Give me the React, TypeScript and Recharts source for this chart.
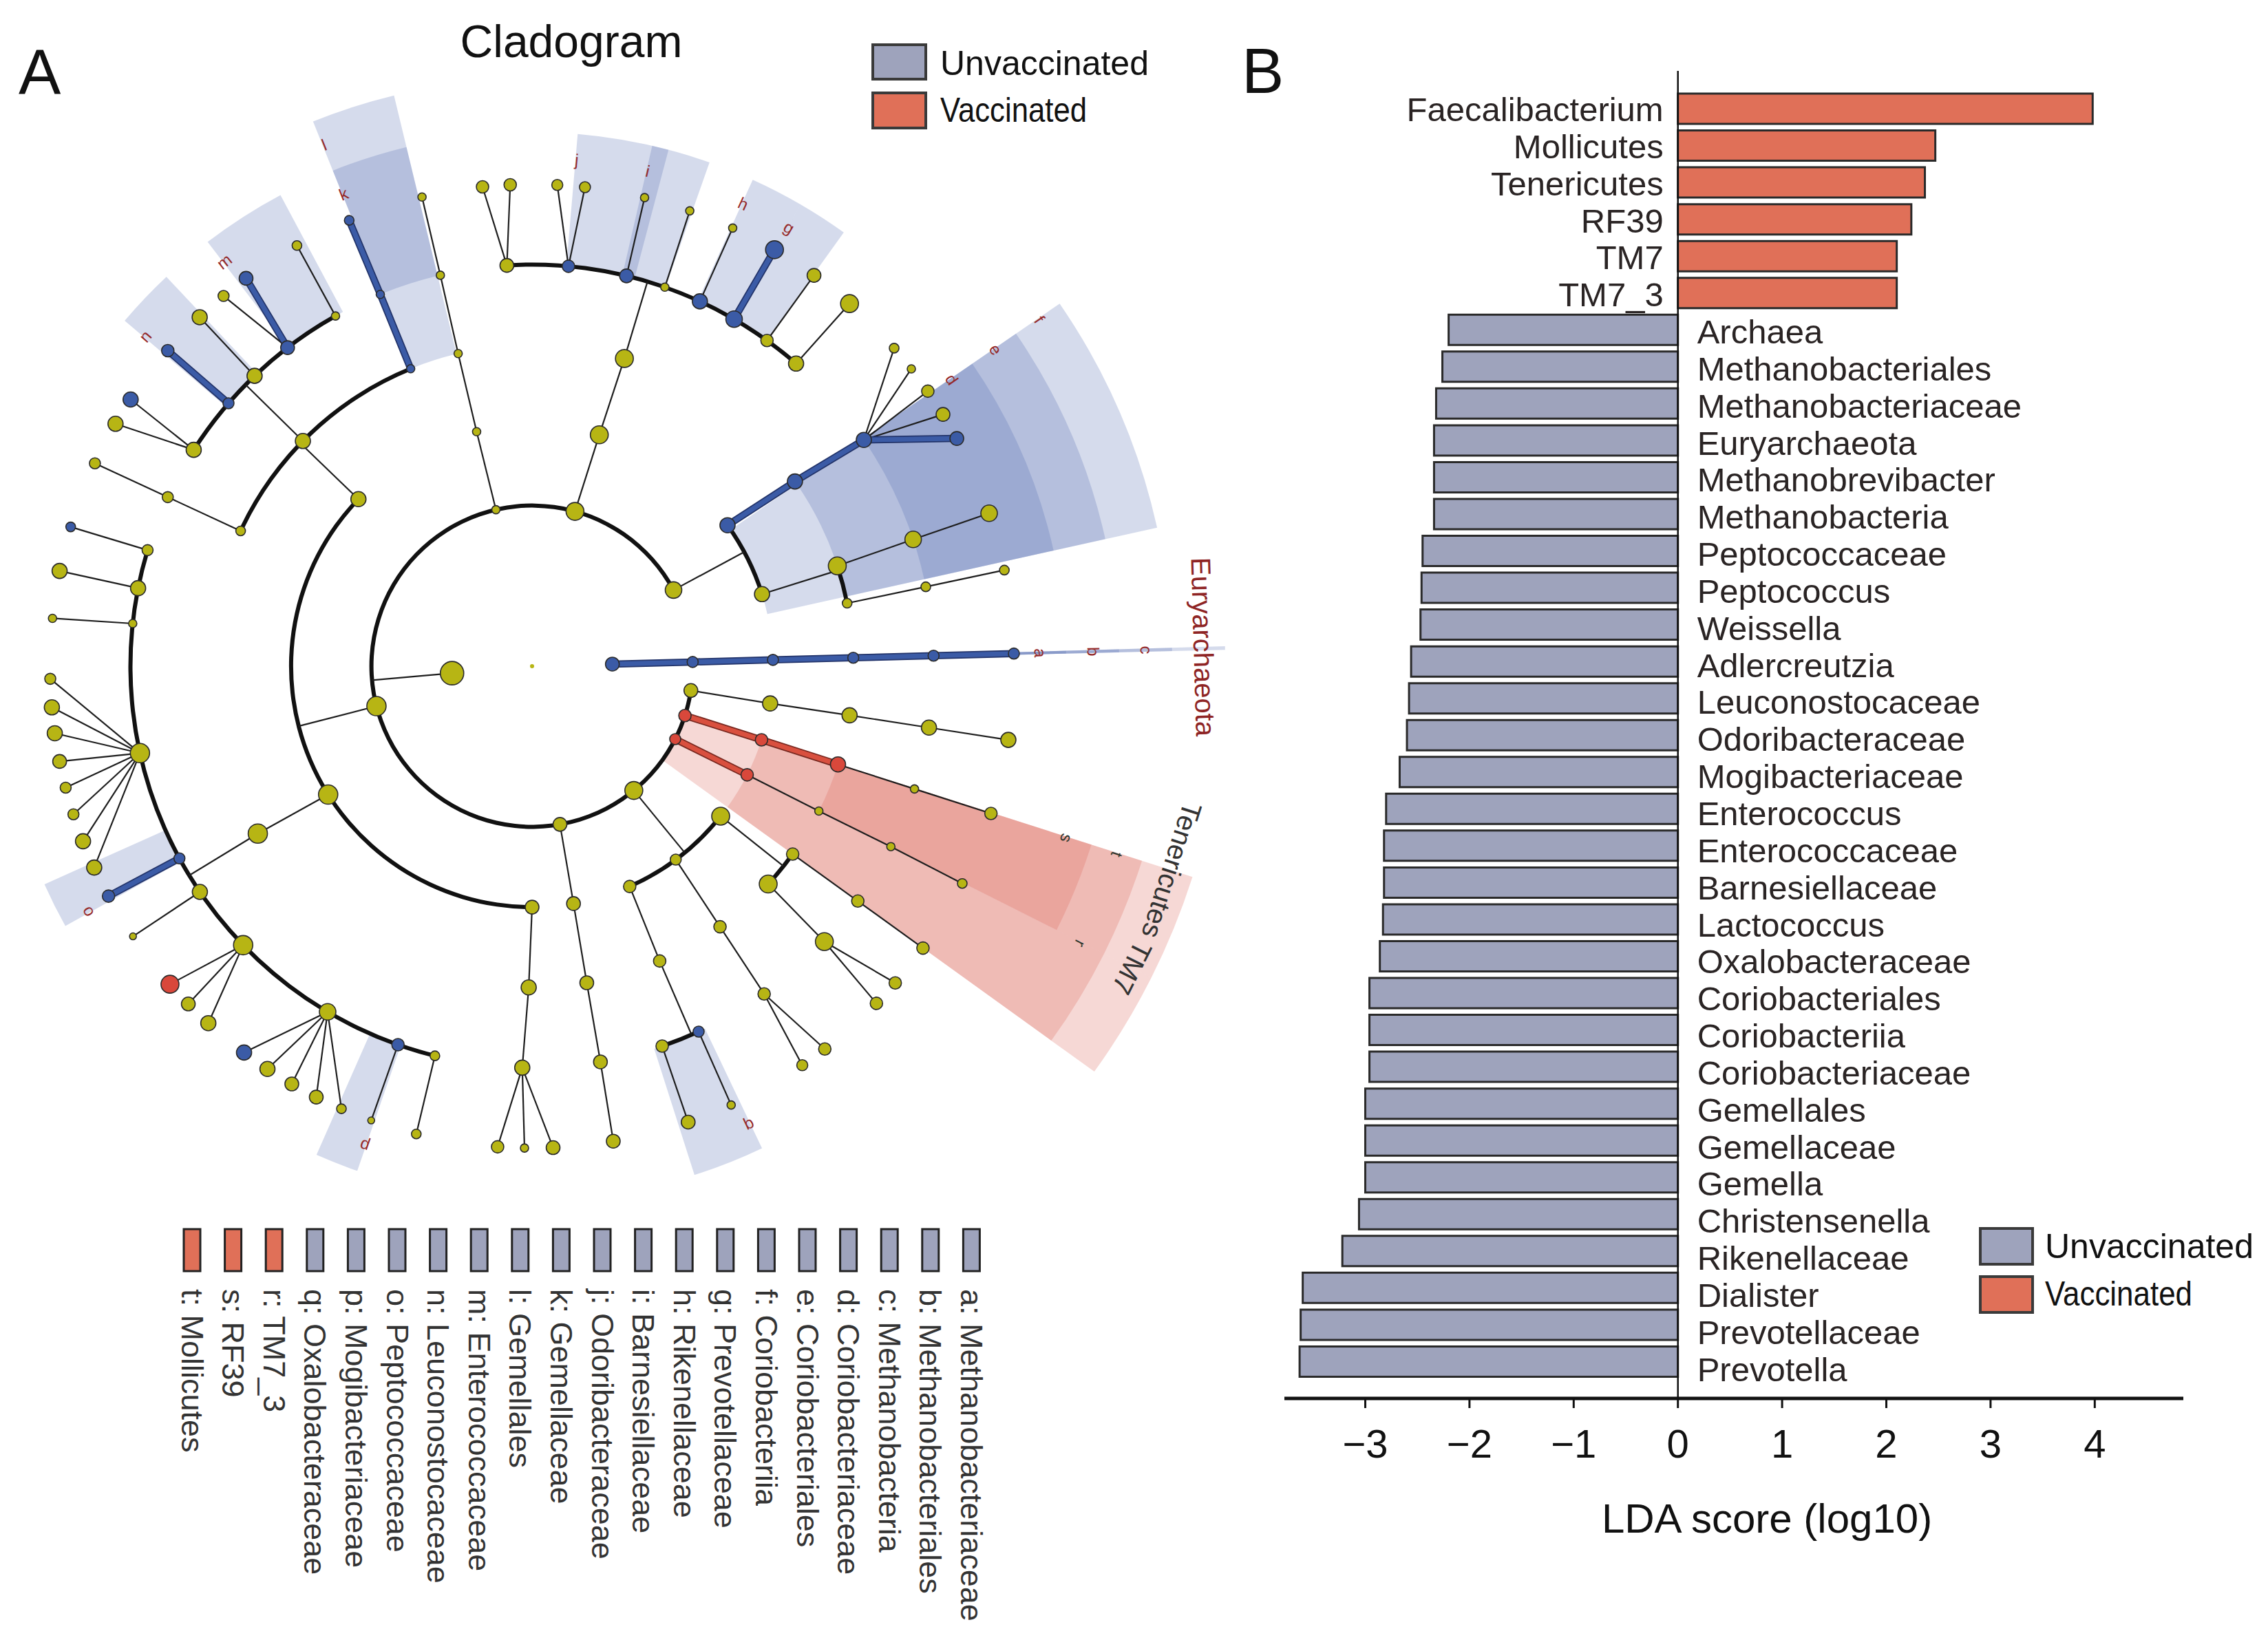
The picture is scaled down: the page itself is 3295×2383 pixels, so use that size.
import React from "react";
import {
  BarChart,
  Bar,
  Cell,
  XAxis,
  YAxis,
  ReferenceLine,
  LabelList,
  Label,
  ScatterChart,
  Scatter,
  PieChart,
  Pie,
} from "recharts";

const FONT = '"Liberation Sans", Arial, Helvetica, sans-serif';
const UNVAC = "#9ea3bc";
const VAC = "#e07058";

/* ---------- Panel B: LDA scores ---------- */
const taxa = [
  "Faecalibacterium", "Mollicutes", "Tenericutes", "RF39", "TM7", "TM7_3",
  "Archaea", "Methanobacteriales", "Methanobacteriaceae", "Euryarchaeota",
  "Methanobrevibacter", "Methanobacteria", "Peptococcaceae", "Peptococcus",
  "Weissella", "Adlercreutzia", "Leuconostocaceae", "Odoribacteraceae",
  "Mogibacteriaceae", "Enterococcus", "Enterococcaceae", "Barnesiellaceae",
  "Lactococcus", "Oxalobacteraceae", "Coriobacteriales", "Coriobacteriia",
  "Coriobacteriaceae", "Gemellales", "Gemellaceae", "Gemella",
  "Christensenella", "Rikenellaceae", "Dialister", "Prevotellaceae", "Prevotella",
];
const ldaScores = [
  3.98, 2.47, 2.37, 2.24, 2.1, 2.1,
  -2.2, -2.26, -2.32, -2.34,
  -2.34, -2.34, -2.45, -2.46,
  -2.47, -2.56, -2.58, -2.6,
  -2.67, -2.8, -2.82, -2.82,
  -2.83, -2.86, -2.96, -2.96,
  -2.96, -3.0, -3.0, -3.0,
  -3.06, -3.22, -3.6, -3.62, -3.63,
];
const ldaTicks = [-3, -2, -1, 0, 1, 2, 3, 4];

/* ---------- Panel A: cladogram ---------- */
// [id, parent, angle (deg, ccw from east), rank (0 root .. 6 genus), group, abundance]
const cladeNodes: [string, string, number, number, string, number][] = [
  ["root", "", 0, 0, "y", 3],
  ["ar1", "root", 1.5, 1, "u", 10],
  ["ar2", "ar1", 1.5, 2, "u", 8],
  ["ar3", "ar2", 1.5, 3, "u", 8],
  ["ar4", "ar3", 1.5, 4, "u", 8],
  ["ar5", "ar4", 1.5, 5, "u", 8],
  ["ar6", "ar5", 1.5, 6, "u", 8],
  ["ba", "root", 185, 1, "y", 17],
  ["act", "ba", 28.3, 2, "y", 12],
  ["bac", "ba", 74.5, 2, "y", 13],
  ["p103", "ba", 103, 2, "y", 6],
  ["fir", "ba", 194.4, 2, "y", 14],
  ["p280", "ba", 280, 2, "y", 10],
  ["pro", "ba", 309.3, 2, "y", 13],
  ["tm7", "ba", 333, 2, "v", 8],
  ["ten", "ba", 342.1, 2, "v", 9],
  ["p351", "ba", 351.3, 2, "y", 10],
  // Actinobacteria
  ["cor3", "act", 35.8, 3, "u", 11],
  ["act3", "act", 17.4, 3, "y", 11],
  ["cor4", "cor3", 35.1, 4, "u", 11],
  ["cor5", "cor4", 34.3, 5, "u", 11],
  ["cg1", "cor5", 41.3, 6, "y", 7],
  ["cg2", "cor5", 38.1, 6, "y", 6],
  ["cg3", "cor5", 34.8, 6, "y", 9],
  ["cg4", "cor5", 31.5, 6, "y", 10],
  ["cg5", "cor5", 28.2, 6, "u", 10],
  ["a4a", "act3", 18.2, 4, "y", 13],
  ["a4b", "act3", 11.3, 4, "y", 7],
  ["a5a", "a4a", 18.4, 5, "y", 12],
  ["a6a", "a5a", 18.5, 6, "y", 12],
  ["a5b", "a4b", 11.4, 5, "y", 7],
  ["a6b", "a5b", 11.5, 6, "y", 7],
  // Bacteroidetes
  ["bac3", "bac", 73.8, 3, "y", 13],
  ["bac4", "bac3", 73.3, 4, "y", 13],
  ["f936", "bac4", 93.6, 5, "y", 10],
  ["f848", "bac4", 84.8, 5, "u", 9],
  ["f764", "bac4", 76.4, 5, "u", 10],
  ["f707", "bac4", 70.7, 5, "y", 6],
  ["f653", "bac4", 65.3, 5, "u", 11],
  ["f598", "bac4", 59.8, 5, "u", 12],
  ["f542", "bac4", 54.2, 5, "y", 9],
  ["f489", "bac4", 48.9, 5, "y", 11],
  ["g959", "f936", 95.9, 6, "y", 9],
  ["g926", "f936", 92.6, 6, "y", 9],
  ["g870", "f848", 87, 6, "y", 8],
  ["g837", "f848", 83.7, 6, "y", 8],
  ["g765", "f764", 76.5, 6, "y", 6],
  ["g709", "f707", 70.9, 6, "y", 6],
  ["g654", "f653", 65.4, 6, "y", 6],
  ["g598", "f598", 59.8, 6, "u", 13],
  ["g542", "f542", 54.2, 6, "y", 10],
  ["g488", "f489", 48.8, 6, "y", 13],
  // small phylum at 103
  ["q3", "p103", 103.3, 3, "y", 6],
  ["q4", "q3", 103.3, 4, "y", 6],
  ["q5", "q4", 103.2, 5, "y", 6],
  ["q6", "q5", 103.2, 6, "y", 6],
  // Firmicutes
  ["bacil", "fir", 136.1, 3, "y", 11],
  ["clos", "fir", 212.2, 3, "y", 14],
  ["neg", "fir", 270, 3, "y", 10],
  ["gem4", "bacil", 112.2, 4, "u", 6],
  ["lac4", "bacil", 135.5, 4, "y", 11],
  ["o155", "bacil", 155.1, 4, "y", 7],
  ["gem5", "gem4", 112.2, 5, "u", 6],
  ["gem6", "gem5", 112.3, 6, "u", 7],
  ["o155f", "o155", 155.1, 5, "y", 8],
  ["o155g", "o155f", 155.1, 6, "y", 8],
  ["l1193", "lac4", 119.3, 5, "y", 6],
  ["ent5", "lac4", 127.5, 5, "u", 10],
  ["l1337", "lac4", 133.7, 5, "y", 11],
  ["leu5", "lac4", 139.1, 5, "u", 8],
  ["str5", "lac4", 147.4, 5, "y", 11],
  ["l1192", "l1193", 119.2, 6, "y", 7],
  ["ent6", "ent5", 126.4, 6, "u", 10],
  ["e1298", "ent5", 129.8, 6, "y", 8],
  ["l1336", "l1337", 133.6, 6, "y", 11],
  ["wei6", "leu5", 139.1, 6, "u", 9],
  ["lact6", "str5", 146.4, 6, "u", 11],
  ["s1498", "str5", 149.8, 6, "y", 11],
  ["clo4", "clos", 211.4, 4, "y", 14],
  ["c1632", "clo4", 163.2, 5, "y", 8],
  ["c1688", "clo4", 168.8, 5, "y", 11],
  ["c1739", "clo4", 173.9, 5, "y", 6],
  ["rum5", "clo4", 192.5, 5, "y", 14],
  ["pep5", "clo4", 208.6, 5, "u", 8],
  ["c2142", "clo4", 214.2, 5, "y", 11],
  ["c2240", "clo4", 224, 5, "y", 14],
  ["c2394", "clo4", 239.4, 5, "y", 12],
  ["mog5", "clo4", 250.5, 5, "u", 9],
  ["c2560", "clo4", 256, 5, "y", 7],
  ["chr6", "c1632", 163.2, 6, "u", 7],
  ["g1686", "c1688", 168.6, 6, "y", 11],
  ["g1743", "c1739", 174.3, 6, "y", 6],
  ["r1815", "rum5", 181.5, 6, "y", 8],
  ["r1849", "rum5", 184.9, 6, "y", 11],
  ["r1880", "rum5", 188, 6, "y", 11],
  ["r1914", "rum5", 191.4, 6, "y", 10],
  ["r1946", "rum5", 194.6, 6, "y", 8],
  ["r1979", "rum5", 197.9, 6, "y", 8],
  ["r2013", "rum5", 201.3, 6, "y", 11],
  ["r2047", "rum5", 204.7, 6, "y", 11],
  ["pep6", "pep5", 208.5, 6, "u", 9],
  ["g2141", "c2142", 214.1, 6, "y", 5],
  ["fae6", "c2240", 221.3, 6, "v", 13],
  ["g2245", "c2240", 224.5, 6, "y", 10],
  ["g2278", "c2240", 227.8, 6, "y", 11],
  ["g2333", "c2394", 233.3, 6, "u", 11],
  ["g2367", "c2394", 236.7, 6, "y", 11],
  ["g2401", "c2394", 240.1, 6, "y", 10],
  ["g2434", "c2394", 243.4, 6, "y", 10],
  ["g2467", "c2394", 246.7, 6, "y", 7],
  ["g2505", "mog5", 250.5, 6, "y", 5],
  ["g2561", "c2560", 256.1, 6, "y", 7],
  ["neg4", "neg", 269.4, 4, "y", 11],
  ["neg5", "neg4", 268.6, 5, "y", 11],
  ["n2659", "neg5", 265.9, 6, "y", 9],
  ["n2691", "neg5", 269.1, 6, "y", 6],
  ["n2725", "neg5", 272.5, 6, "y", 10],
  // phylum at 280
  ["r3", "p280", 279.9, 3, "y", 10],
  ["r4", "r3", 279.8, 4, "y", 10],
  ["r5", "r4", 279.8, 5, "y", 10],
  ["r6", "r5", 279.7, 6, "y", 10],
  // Proteobacteria
  ["pr3a", "pro", 293.9, 3, "y", 9],
  ["pr3b", "pro", 306.6, 3, "y", 8],
  ["pr3c", "pro", 321.5, 3, "y", 13],
  ["pr4a", "pr3a", 293.4, 4, "y", 9],
  ["pr5a", "pr4a", 288.9, 5, "y", 9],
  ["oxa5", "pr4a", 294.5, 5, "u", 8],
  ["pr6a", "pr5a", 288.9, 6, "y", 10],
  ["oxa6", "oxa5", 294.4, 6, "y", 6],
  ["pr4b", "pr3b", 305.8, 4, "y", 9],
  ["pr5b", "pr4b", 305.3, 5, "y", 9],
  ["pr6b1", "pr5b", 307.4, 6, "y", 9],
  ["pr6b2", "pr5b", 304.1, 6, "y", 8],
  ["pr4c", "pr3c", 317.3, 4, "y", 13],
  ["pr4d", "pr3c", 324.2, 4, "y", 9],
  ["pr5c", "pr4c", 316.7, 5, "y", 13],
  ["pr6c1", "pr5c", 318.9, 6, "y", 9],
  ["pr6c2", "pr5c", 315.6, 6, "y", 9],
  ["pr5d", "pr4d", 324.2, 5, "y", 9],
  ["pr6d", "pr5d", 324.2, 6, "y", 9],
  // TM7
  ["tm3", "tm7", 333.2, 3, "v", 9],
  ["tm4", "tm3", 333.2, 4, "y", 6],
  ["tm5", "tm4", 333.3, 5, "y", 6],
  ["tm6", "tm5", 333.2, 6, "y", 7],
  // Tenericutes
  ["te3", "ten", 342.2, 3, "v", 9],
  ["te4", "te3", 342.2, 4, "v", 11],
  ["te5", "te4", 342.2, 5, "y", 6],
  ["te6", "te5", 342.2, 6, "y", 9],
  // phylum at 351
  ["u3", "p351", 351.1, 3, "y", 11],
  ["u4", "u3", 351.2, 4, "y", 11],
  ["u5", "u4", 351.2, 5, "y", 11],
  ["u6", "u5", 351.2, 6, "y", 11],
];

// highlighted biomarker clades: [key, rank, fromAngle, toAngle, group]
const biomarkers: [string, number, number, number, string][] = [
  ["a", 5, 1.35, 1.65, "u"],
  ["b", 4, 1.35, 1.65, "u"],
  ["c", 3, 1.35, 1.65, "u"],
  ["Euryarchaeota", 2, 1.35, 1.65, "u"],
  ["d", 5, 12.5, 34.5, "u"],
  ["e", 4, 12.5, 34.5, "u"],
  ["f", 3, 12.5, 34.5, "u"],
  ["g", 5, 54.3, 59.8, "u"],
  ["h", 5, 59.8, 65.6, "u"],
  ["i", 5, 70.6, 77.0, "u"],
  ["j", 5, 75.2, 85.1, "u"],
  ["k", 5, 103.6, 111.9, "u"],
  ["l", 4, 103.6, 111.9, "u"],
  ["m", 5, 118.1, 127.4, "u"],
  ["n", 5, 133.2, 139.7, "u"],
  ["o", 5, 204.1, 209.1, "u"],
  ["p", 5, 246.2, 250.9, "u"],
  ["q", 5, 287.7, 295.5, "u"],
  ["r", 3, 324.2, 333.3, "v"],
  ["TM7", 2, 324.2, 333.3, "v"],
  ["s", 4, 333.3, 342.3, "v"],
  ["t", 3, 333.3, 342.3, "v"],
  ["Tenericutes", 2, 333.3, 342.3, "v"],
];

const legendNames: [string, string, string][] = [
  ["a", "Methanobacteriaceae", "u"],
  ["b", "Methanobacteriales", "u"],
  ["c", "Methanobacteria", "u"],
  ["d", "Coriobacteriaceae", "u"],
  ["e", "Coriobacteriales", "u"],
  ["f", "Coriobacteriia", "u"],
  ["g", "Prevotellaceae", "u"],
  ["h", "Rikenellaceae", "u"],
  ["i", "Barnesiellaceae", "u"],
  ["j", "Odoribacteraceae", "u"],
  ["k", "Gemellaceae", "u"],
  ["l", "Gemellales", "u"],
  ["m", "Enterococcaceae", "u"],
  ["n", "Leuconostocaceae", "u"],
  ["o", "Peptococcaceae", "u"],
  ["p", "Mogibacteriaceae", "u"],
  ["q", "Oxalobacteraceae", "u"],
  ["r", "TM7_3", "v"],
  ["s", "RF39", "v"],
  ["t", "Mollicutes", "v"],
];

/* ---------- cladogram geometry ---------- */
const CLADO_W = 1800;
const CLADO_H = 1800;
const CX = 773;
const CY = 968;
const STEP = 116.7;

const NODE_FILL: Record<string, string> = { y: "#b7b514", u: "#3b5ba6", v: "#d9483b" };
const SHADE: Record<string, string> = { u: "rgba(80,105,176,0.24)", v: "rgba(219,99,87,0.25)" };
const TAG_COLOR: Record<string, string> = { u: "#952a2a", v: "#2f382f" };

const toRad = (d: number) => (d * Math.PI) / 180;
const polar = (angle: number, rank: number) => ({
  x: rank * Math.cos(toRad(angle)),
  y: rank * Math.sin(toRad(angle)),
});
const shadeOuter = (rank: number) => 6.65 + 0.66 * (5 - rank);

type CNode = { id: string; parent: string; angle: number; rank: number; group: string; abund: number };
const nodeList: CNode[] = cladeNodes.map(([id, parent, angle, rank, group, abund]) => ({
  id, parent, angle, rank, group, abund,
}));
const kidsOf = new Map<string, CNode[]>();
nodeList.forEach((n) => {
  if (!n.parent) return;
  if (!kidsOf.has(n.parent)) kidsOf.set(n.parent, []);
  kidsOf.get(n.parent)!.push(n);
});

type Seg = { a: { x: number; y: number }; b: { x: number; y: number }; kind: string };
const segments: Seg[] = [];
const arcs: { rank: number; from: number; to: number }[] = [];
nodeList.forEach((p) => {
  const kids = kidsOf.get(p.id);
  if (!kids || p.id === "root") return;
  const allLeaves = kids.every((k) => !kidsOf.has(k.id));
  if (kids.length === 1 || allLeaves) {
    kids.forEach((k) => {
      const kind = p.group === k.group && p.group !== "y" ? p.group : "thin";
      segments.push({ a: polar(p.angle, p.rank), b: polar(k.angle, k.rank), kind });
    });
  } else {
    segments.push({ a: polar(p.angle, p.rank), b: polar(p.angle, p.rank + 1), kind: "thin" });
    const angs = kids.map((k) => k.angle).concat(p.angle);
    arcs.push({ rank: p.rank + 1, from: Math.min(...angs), to: Math.max(...angs) });
  }
});

const nodePoints = nodeList.map((n) => ({ ...polar(n.angle, n.rank), abund: n.abund, group: n.group }));
const tagPoints = biomarkers.map(([key, rank, , to, group]) => {
  const isName = key.length > 1;
  const r = shadeOuter(rank) - (isName ? 0.27 : 0.32);
  const ang = isName ? to : to - 0.15;
  return { ...polar(ang, r), text: key, rot: 90 - ang, isName, group };
});

const ONE = [{ v: 1 }];
const NoDot = () => <g />;

const NodeShape = (props: any) => {
  const { cx, cy, payload } = props;
  return (
    <circle cx={cx} cy={cy} r={payload.abund} fill={NODE_FILL[payload.group]}
      stroke={payload.abund > 3 ? "#2b2b2b" : "none"} strokeWidth={1.6} />
  );
};

const TagShape = (props: any) => {
  const { cx, cy, payload } = props;
  const fill = payload.isName
    ? payload.group === "u" ? "#8e2424" : "#333333"
    : TAG_COLOR[payload.group];
  return (
    <text x={cx} y={cy} transform={`rotate(${payload.rot} ${cx} ${cy})`} textAnchor="middle"
      dominantBaseline="central" fontSize={payload.isName ? 40 : 24} fill={fill} fontFamily={FONT}>
      {payload.text}
    </text>
  );
};

const BarTag = (props: any) => {
  const { x, y, width, height, value, index } = props;
  const score = ldaScores[index];
  const zero = score >= 0 ? Math.min(x, x + width) : Math.max(x, x + width);
  // the printed names sit a touch lower than their bars towards the bottom
  const drift = 1 + index * 0.3;
  return (
    <text x={score >= 0 ? zero - 21 : zero + 28} y={y + height / 2 + drift} textAnchor={score >= 0 ? "end" : "start"}
      dominantBaseline="central" fontSize={49} fill="#2a2424" fontFamily={FONT}>
      {value}
    </text>
  );
};

const Cladogram = () => (
  <>
    <div style={{ position: "absolute", left: 0, top: 0 }}>
      <PieChart width={CLADO_W} height={CLADO_H} margin={{ top: 0, right: 0, bottom: 0, left: 0 }}>
        {biomarkers.map(([key, rank, from, to, group]) => (
          <Pie key={"w" + key} data={ONE} dataKey="v" cx={CX} cy={CY} startAngle={from} endAngle={to}
            innerRadius={rank * STEP} outerRadius={shadeOuter(rank) * STEP} stroke="none"
            isAnimationActive={false}>
            <Cell fill={SHADE[group]} />
          </Pie>
        ))}
        {arcs.map((a, i) => (
          <Pie key={"a" + i} data={ONE} dataKey="v" cx={CX} cy={CY} startAngle={a.from} endAngle={a.to}
            innerRadius={a.rank * STEP - 3} outerRadius={a.rank * STEP + 3} stroke="none"
            isAnimationActive={false}>
            <Cell fill="#111111" />
          </Pie>
        ))}
      </PieChart>
    </div>
    <div style={{ position: "absolute", left: 0, top: 0 }}>
      <ScatterChart width={CLADO_W} height={CLADO_H} margin={{ top: 0, right: 0, bottom: 0, left: 0 }}>
        <XAxis type="number" dataKey="x" hide allowDataOverflow
          domain={[-CX / STEP, (CLADO_W - CX) / STEP]} />
        <YAxis type="number" dataKey="y" hide allowDataOverflow
          domain={[-(CLADO_H - CY) / STEP, CY / STEP]} />
        {segments.map((s, i) => (
          <Scatter key={"s" + i} data={[s.a, s.b]} shape={NoDot} isAnimationActive={false}
            line={
              s.kind === "thin"
                ? { stroke: "#1e1e1e", strokeWidth: 2.2 }
                : { stroke: s.kind === "u" ? "#23346a" : "#7a2a22", strokeWidth: 10.5, strokeLinecap: "round" }
            } />
        ))}
        {segments.filter((s) => s.kind !== "thin").map((s, i) => (
          <Scatter key={"c" + i} data={[s.a, s.b]} shape={NoDot} isAnimationActive={false}
            line={{ stroke: s.kind === "u" ? "#3b5ba6" : "#d9503f", strokeWidth: 7, strokeLinecap: "round" }} />
        ))}
        <Scatter data={nodePoints} shape={NodeShape} isAnimationActive={false} />
        <Scatter data={tagPoints} shape={TagShape} isAnimationActive={false} />
      </ScatterChart>
    </div>
  </>
);

const LdaChart = () => (
  <div style={{ position: "absolute", left: 1866, top: 103 }}>
    <BarChart width={1306} height={2209} layout="vertical" margin={{ top: 0, right: 0, bottom: 0, left: 0 }}
      data={taxa.map((name, i) => ({ name, lda: ldaScores[i] }))}>
      <XAxis type="number" domain={[-3.776, 4.85]} ticks={ldaTicks} allowDataOverflow height={280}
        axisLine={{ stroke: "#111", strokeWidth: 5 }} tickLine={{ stroke: "#111", strokeWidth: 3 }}
        tickSize={14} tickMargin={31}
        tick={{ fontSize: 58, fill: "#111", fontFamily: FONT }}
        tickFormatter={(v: number) => (v < 0 ? `\u2212${Math.abs(v)}` : `${v}`)}>
        <Label value="LDA score (log10)" position="insideBottom" offset={85} dx={48}
          fontSize={60} fill="#111" fontFamily={FONT} />
      </XAxis>
      <YAxis type="category" dataKey="name" hide padding={{ top: 28, bottom: 27 }} />
      <ReferenceLine x={0} stroke="#111" strokeWidth={2.5} />
      <Bar dataKey="lda" barSize={44} stroke="#2a2a2a" strokeWidth={3} isAnimationActive={false}>
        {ldaScores.map((v, i) => (
          <Cell key={i} fill={v > 0 ? VAC : UNVAC} />
        ))}
        <LabelList dataKey="name" content={BarTag} />
      </Bar>
    </BarChart>
  </div>
);

const Annotations = () => (
  <svg width={3295} height={2383} style={{ position: "absolute", left: 0, top: 0, pointerEvents: "none" }}
    fontFamily={FONT}>
    <text x={27} y={137} fontSize={92} fill="#111">A</text>
    <text x={1804} y={135} fontSize={92} fill="#111">B</text>
    <text x={830} y={83} fontSize={66} fill="#111" textAnchor="middle">Cladogram</text>

    {/* group key, panel A */}
    <rect x={1268} y={65} width={77} height={50} fill={UNVAC} stroke="#3a3a3a" strokeWidth={4} />
    <rect x={1268} y={135} width={77} height={51} fill={VAC} stroke="#3a3a3a" strokeWidth={4} />
    <text x={1366} y={92} fontSize={50} fill="#111" dominantBaseline="central">Unvaccinated</text>
    <text x={1366} y={160} fontSize={50} fill="#111" dominantBaseline="central" textLength={213}
      lengthAdjust="spacingAndGlyphs">Vaccinated</text>

    {/* group key, panel B */}
    <rect x={2877} y={1785} width={76} height={52} fill={UNVAC} stroke="#3a3a3a" strokeWidth={4} />
    <rect x={2877} y={1855} width={76} height={52} fill={VAC} stroke="#3a3a3a" strokeWidth={4} />
    <text x={2971} y={1811} fontSize={50} fill="#111" dominantBaseline="central">Unvaccinated</text>
    <text x={2971} y={1880} fontSize={50} fill="#111" dominantBaseline="central" textLength={214}
      lengthAdjust="spacingAndGlyphs">Vaccinated</text>

    {/* clade letter key */}
    {[...legendNames].reverse().map(([key, name, group], i) => {
      const cx = 279 + i * 59.6;
      return (
        <g key={key}>
          <rect x={cx - 12} y={1786} width={24} height={61} fill={group === "v" ? VAC : UNVAC}
            stroke="#222" strokeWidth={3} />
          <text transform={`translate(${cx} 1873) rotate(90)`} fontSize={45} fill="#333"
            dominantBaseline="central">{`${key}: ${name}`}</text>
        </g>
      );
    })}
  </svg>
);

export default function App() {
  return (
    <div style={{ position: "absolute", left: 0, top: 0, width: 3295, height: 2383, background: "#fff", fontFamily: FONT }}>
      <Cladogram />
      <LdaChart />
      <Annotations />
    </div>
  );
}
